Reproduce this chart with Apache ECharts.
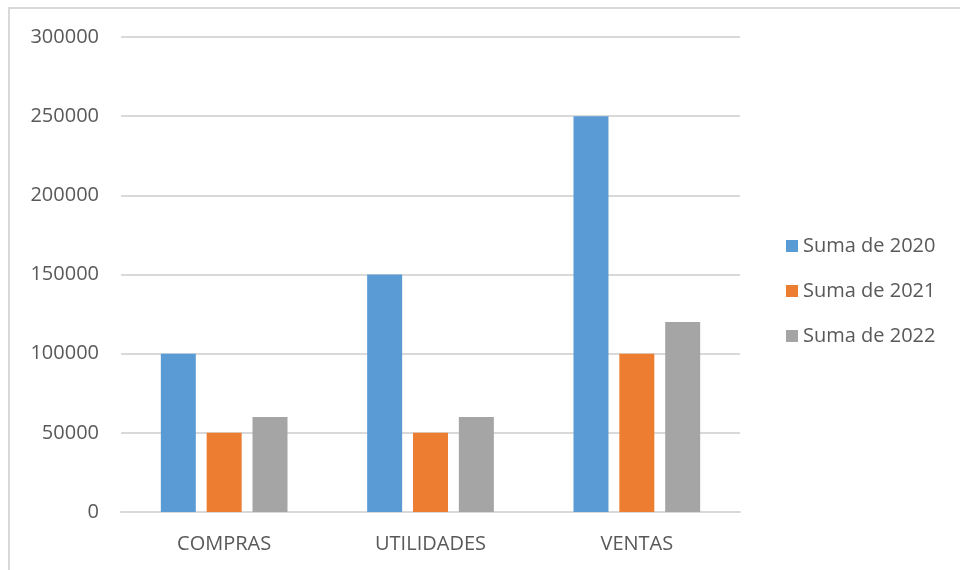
<!DOCTYPE html>
<html>
<head>
<meta charset="utf-8">
<script src="https://cdn.jsdelivr.net/npm/echarts@6/dist/echarts.min.js"></script>
<style>
  html, body { margin: 0; padding: 0; background: #fff; }
  #frame { position: absolute; left: 8px; top: 7px; width: 1000px; height: 600px;
           border-top: 2px solid #d9d9d9; border-left: 2px solid #d9d9d9; box-sizing: border-box; }
  #chart { position: absolute; left: 0; top: 0; width: 960px; height: 570px; }
</style>
</head>
<body>
<div id="frame"></div>
<div id="chart"></div>
<script>
const categories = ["COMPRAS", "UTILIDADES", "VENTAS"];
const seriesNames = ["Suma de 2020", "Suma de 2021", "Suma de 2022"];
const values2020 = [100000, 150000, 250000];
const values2021 = [50000, 50000, 100000];
const values2022 = [60000, 60000, 120000];
const colors = ["#5b9bd5", "#ed7d31", "#a5a5a5"];

const chart = echarts.init(document.getElementById("chart"));
const font = "'Open Sans', 'Noto Sans', sans-serif";

const option = {
  animation: false,
  color: colors,
  textStyle: { fontFamily: font },
  grid: { left: 121, right: 220, top: 37, bottom: 58 },
  legend: {
    orient: "vertical",
    left: 781,
    top: 231,
    itemWidth: 12,
    itemHeight: 12,
    itemGap: 25,
    icon: "rect",
    textStyle: { fontSize: 20, lineHeight: 20, color: "#595959", fontFamily: font },
    data: seriesNames,
  },
  xAxis: {
    type: "category",
    data: categories,
    axisTick: { show: false },
    axisLine: { lineStyle: { color: "#d9d9d9", width: 2 } },
    axisLabel: { fontSize: 20, color: "#595959", margin: 22, fontFamily: font },
  },
  yAxis: {
    type: "value",
    min: 0,
    max: 300000,
    interval: 50000,
    axisLabel: {
      fontSize: 20, color: "#595959", margin: 22, fontFamily: font,
      formatter: (v) => String(v),
    },
    splitLine: { lineStyle: { color: "#d9d9d9", width: 2 } },
  },
  series: [
    { name: seriesNames[0], type: "bar", data: values2020, barWidth: 35, barGap: "31%" },
    { name: seriesNames[1], type: "bar", data: values2021, barWidth: 35, barGap: "31%" },
    { name: seriesNames[2], type: "bar", data: values2022, barWidth: 35, barGap: "31%" },
  ],
};
chart.setOption(option);
</script>
</body>
</html>
